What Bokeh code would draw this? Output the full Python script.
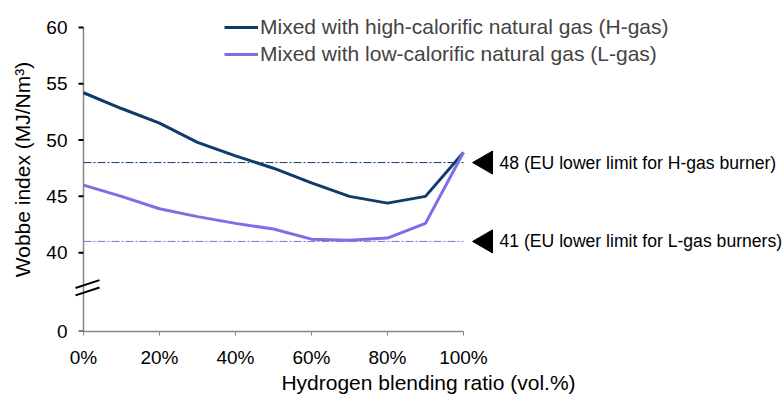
import math
from bokeh.plotting import figure
from bokeh.models import (Legend, LegendItem, FixedTicker, Range1d,
                          ColumnDataSource)
from bokeh.embed import file_html
from bokeh.resources import INLINE
from bokeh.core.properties import value

# ---- data ----
blend_pct = [0, 10, 20, 30, 40, 50, 60, 70, 80, 90, 100]
wobbe_h_gas = [54.2, 52.8, 51.5, 49.8, 48.6, 47.5, 46.2, 45.0, 44.4, 45.0, 48.9]
wobbe_l_gas = [46.0, 45.0, 43.9, 43.2, 42.6, 42.1, 41.2, 41.1, 41.3, 42.6, 48.9]
series_names = ["Mixed with high-calorific natural gas (H-gas)",
                "Mixed with low-calorific natural gas (L-gas)"]
limit_values = [48, 41]
limit_labels = ["48 (EU lower limit for H-gas burner)",
                "41 (EU lower limit for L-gas burners)"]
x_ticks = [0, 20, 40, 60, 80, 100]
x_tick_labels = ["0%", "20%", "40%", "60%", "80%", "100%"]
y_ticks = [40, 45, 50, 55, 60]
y_zero_label = "0"

# ---- style / layout ----
FONT = "Liberation Sans"
H_COLOR = "#113b69"
L_COLOR = "#7a6fe6"
AXIS_GRAY = "#868686"
ZERO_POS = 33          # where the broken axis shows "0"
X_PX = 3.8             # px per x unit
TICK_LEN = 5 / X_PX    # y tick length in x units

p = figure(width=784, height=396, output_backend="svg", toolbar_location=None,
           x_range=Range1d(-11 / X_PX, 184.5), y_range=Range1d(ZERO_POS, 61.77),
           min_border_left=72, min_border_right=0, min_border_top=7,
           min_border_bottom=63)
p.outline_line_color = None
p.grid.visible = False
p.background_fill_color = "white"
p.border_fill_color = "white"

# x axis
xa = p.xaxis[0]
xa.ticker = FixedTicker(ticks=x_ticks)
xa.major_label_overrides = {t: l for t, l in zip(x_ticks, x_tick_labels)}
xa.bounds = (x_ticks[0], x_ticks[-1])
xa.axis_label = "Hydrogen blending ratio (vol.%)"
xa.minor_tick_line_color = None
xa.major_tick_in = 0
xa.major_tick_out = 4
xa.major_tick_line_color = AXIS_GRAY
xa.axis_line_color = AXIS_GRAY
xa.axis_line_width = 1.5
xa.major_label_text_font = FONT
xa.major_label_text_font_size = "19px"
xa.major_label_text_color = "black"
xa.major_label_standoff = 11
xa.axis_label_text_font = FONT
xa.axis_label_text_font_size = "21px"
xa.axis_label_text_font_style = "normal"
xa.axis_label_text_color = "black"
xa.axis_label_standoff = 0

# y axis: labels and title from the axis; its line and ticks are drawn at x=0
y_tick_pos = [ZERO_POS] + y_ticks
ya = p.yaxis[0]
ya.ticker = FixedTicker(ticks=y_tick_pos)
ya.major_label_overrides = {ZERO_POS: y_zero_label}
ya.axis_label = "Wobbe index (MJ/Nm³)"
ya.minor_tick_line_color = None
ya.major_tick_in = 0
ya.major_tick_out = 0
ya.major_tick_line_color = None
ya.axis_line_color = None
ya.major_label_text_font = FONT
ya.major_label_text_font_size = "19px"
ya.major_label_text_color = "black"
ya.major_label_standoff = 5
ya.axis_label_text_font = FONT
ya.axis_label_text_font_size = "21px"
ya.axis_label_text_font_style = "normal"
ya.axis_label_text_color = "black"
ya.axis_label_standoff = 9

p.segment(x0=[0], y0=[ZERO_POS], x1=[0], y1=[y_ticks[-1]],
          line_color=AXIS_GRAY, line_width=1.5)
p.segment(x0=[-TICK_LEN] * len(y_tick_pos), x1=[0] * len(y_tick_pos),
          y0=y_tick_pos, y1=y_tick_pos, line_color="black", line_width=2)

# axis break mark (two slanted strokes across the y axis)
brk_mid = [37.21, 36.56]
p.segment(x0=[-8 / X_PX] * 2, x1=[16 / X_PX] * 2,
          y0=[m - 0.35 for m in brk_mid], y1=[m + 0.35 for m in brk_mid],
          line_color="black", line_width=2)

# limit lines
lim_src = ColumnDataSource(dict(x0=[x_ticks[0]] * 2, x1=[x_ticks[-1]] * 2,
                                y=limit_values, label=limit_labels,
                                color=[H_COLOR, L_COLOR],
                                tx=[105.9] * 2, lx=[109.5] * 2))
p.segment(x0="x0", x1="x1", y0="y", y1="y", source=lim_src, line_color="color",
          line_width=1, line_dash="8 2 2 2")

# series
r_h = p.line(blend_pct, wobbe_h_gas, line_width=3, line_color=H_COLOR)
r_l = p.line(blend_pct, wobbe_l_gas, line_width=3, line_color=L_COLOR)

# limit markers and labels
p.scatter(x="tx", y="y", source=lim_src, marker="triangle", size=23,
          angle=math.pi / 2, fill_color="black", line_color="black")
p.text(x="lx", y="y", text="label", source=lim_src, text_font=value(FONT),
       text_font_size="17.6px", text_baseline="middle", text_align="left",
       text_color="black")

legend = Legend(items=[LegendItem(label=series_names[0], renderers=[r_h]),
                       LegendItem(label=series_names[1], renderers=[r_l])],
                location=(152, 265), orientation="vertical",
                label_text_font=FONT, label_text_font_size="21px",
                glyph_width=34, glyph_height=20, label_height=20,
                spacing=3, padding=0, margin=0, label_standoff=2,
                border_line_alpha=0, background_fill_alpha=0)
p.add_layout(legend)

open("out.html", "w").write(file_html(p, INLINE))
